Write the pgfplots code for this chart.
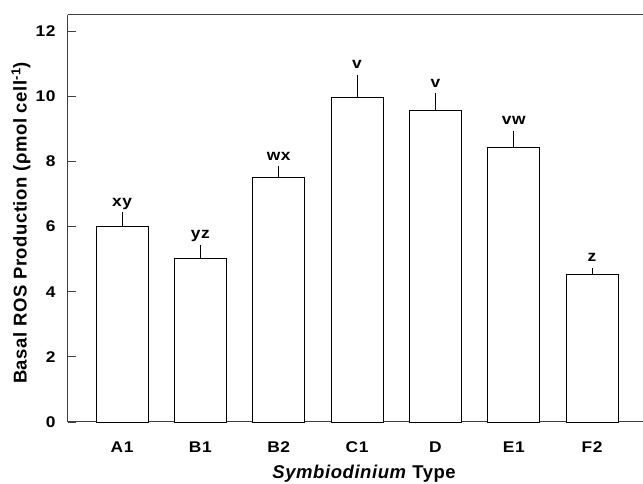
\documentclass[border=0pt]{standalone}
\usepackage{pgfplots}
\pgfplotsset{compat=1.18}
\usepackage{fontspec}
\setmainfont{Liberation Sans}
\newfontfamily\tickfont{Liberation Sans}[FakeStretch=1.12, LetterSpace=4]
\newfontfamily\labfont{Liberation Sans}[LetterSpace=3]
\begin{document}
\begin{tikzpicture}
\begin{axis}[
  name=ax,
  scale only axis,
  width=575pt, height=407pt,
  xmin=-0.69, xmax=6.65,
  ymin=0, ymax=12.5,
  axis x line=box,
  axis y line=left,
  y axis line style={-},
  axis line style={black!75, line width=1pt},
  xtick={0,...,6},
  xticklabels={A1,B1,B2,C1,D,E1,F2},
  major x tick style={draw=none},
  ytick={0,2,4,6,8,10,12},
  ytick pos=left,
  tick align=inside,
  major tick length=8pt,
  major y tick style={black!75, line width=0.8pt},
  tick label style={font=\tickfont\fontsize{15.5}{18}\selectfont\bfseries},
  /pgf/number format/assume math mode=true,
  yticklabel style={xshift=-9pt},
  xticklabel style={yshift=-16pt},
  every axis y label/.style={at={(axis description cs:-0.0817,0.489)}, rotate=90, anchor=center},
  every axis x label/.style={at={(axis description cs:0.515,-0.127)}, anchor=center},
  label style={font=\labfont\fontsize{18.5}{21}\selectfont\bfseries},
  ylabel={Basal ROS Production (ρmol cell\textsuperscript{-1})},
  xlabel={\textit{Symbiodinium} Type},
  clip=false,
]
\addplot[ybar, bar width=52pt, fill=white, draw=black, line width=0.8pt,
  error bars/.cd, y dir=plus, y explicit, error mark=none,
  error bar style={black, line width=0.8pt}]
  table[x=x, y=y, y error=e] {
x y e
0 6.00 0.44
1 5.02 0.42
2 7.50 0.35
3 9.98 0.69
4 9.56 0.54
5 8.44 0.50
6 4.54 0.19
};
\addplot[draw=none, mark=none, nodes near coords, point meta=explicit symbolic,
  every node near coord/.append style={anchor=base, yshift=6pt, font=\tickfont\fontsize{15.5}{18}\selectfont\bfseries}]
  table[x=x, y=t, meta=l] {
x t l
0 6.44 xy
1 5.44 yz
2 7.85 wx
3 10.67 v
4 10.10 v
5 8.94 vw
6 4.73 z
};
\end{axis}
\pgfresetboundingbox
\path[use as bounding box] ([shift={(-68pt,-62pt)}]ax.south west) rectangle ([shift={(0pt,15pt)}]ax.north east);
\end{tikzpicture}
\end{document}
